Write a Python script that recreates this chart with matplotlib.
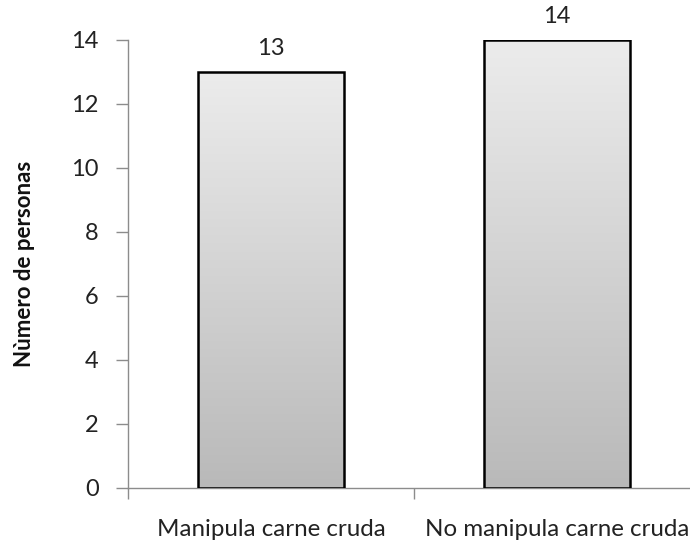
import numpy as np
import matplotlib
matplotlib.use("Agg")
import matplotlib.pyplot as plt
from matplotlib.colors import LinearSegmentedColormap

categories = ["Manipula carne cruda", "No manipula carne cruda"]
values = [13, 14]
yticks = [0, 2, 4, 6, 8, 10, 12, 14]

plt.rcParams['font.family'] = ['Lato', 'DejaVu Sans']

fig = plt.figure(figsize=(6.9, 5.43), dpi=100)
# axes: left spine at x=128px, bottom at y=488px, right edge past figure edge
W, H = 690, 543
ax = fig.add_axes([128 / W, (H - 488) / H, 572 / W, 448 / H])

x = np.arange(len(categories))
bar_w = 0.51
bars = ax.bar(x, values, width=bar_w, facecolor='none', edgecolor='black',
              linewidth=1.8, zorder=3)

# vertical gray gradient inside each bar
grad = np.linspace(0, 1, 256).reshape(-1, 1)
cmap = LinearSegmentedColormap.from_list('g', ['#b9b9b9', '#ececec'])
for b in bars:
    x0, y0 = b.get_x(), b.get_y()
    im = ax.imshow(grad, cmap=cmap, origin='lower', aspect='auto',
                   extent=[x0, x0 + b.get_width(), y0, y0 + b.get_height()],
                   zorder=2)
    im.set_clip_path(b)

for xi, v in zip(x, values):
    ax.text(xi, v + 0.4, str(v), ha='center', va='bottom', fontsize=17,
            color='#222222')

ax.set_xlim(-0.5, 1.5)
ax.set_ylim(0, 14)
ax.set_yticks(yticks)
ax.set_yticklabels([str(t) for t in yticks], fontsize=17, color='#222222')
ax.set_xticks([-0.5, 0.5, 1.5])
ax.set_xticklabels([])
ax.set_xticks(x, minor=True)
ax.set_xticklabels(categories, minor=True, fontsize=17.4, color='#222222')
ax.tick_params(axis='x', which='minor', length=0, pad=22)
ax.tick_params(axis='x', which='major', length=8, color='#8c8c8c', width=1)
ax.tick_params(axis='y', length=9, color='#8c8c8c', width=1, pad=12)

for s in ['top', 'right']:
    ax.spines[s].set_visible(False)
for s in ['left', 'bottom']:
    ax.spines[s].set_color('#8c8c8c')
    ax.spines[s].set_linewidth(1)

ax.set_ylabel("Nùmero de personas", fontsize=16, fontweight='bold',
              color='#111111')
ax.yaxis.set_label_coords(-(128 - 35) / 572, 0.5)

fig.savefig("out.png", dpi=100)
